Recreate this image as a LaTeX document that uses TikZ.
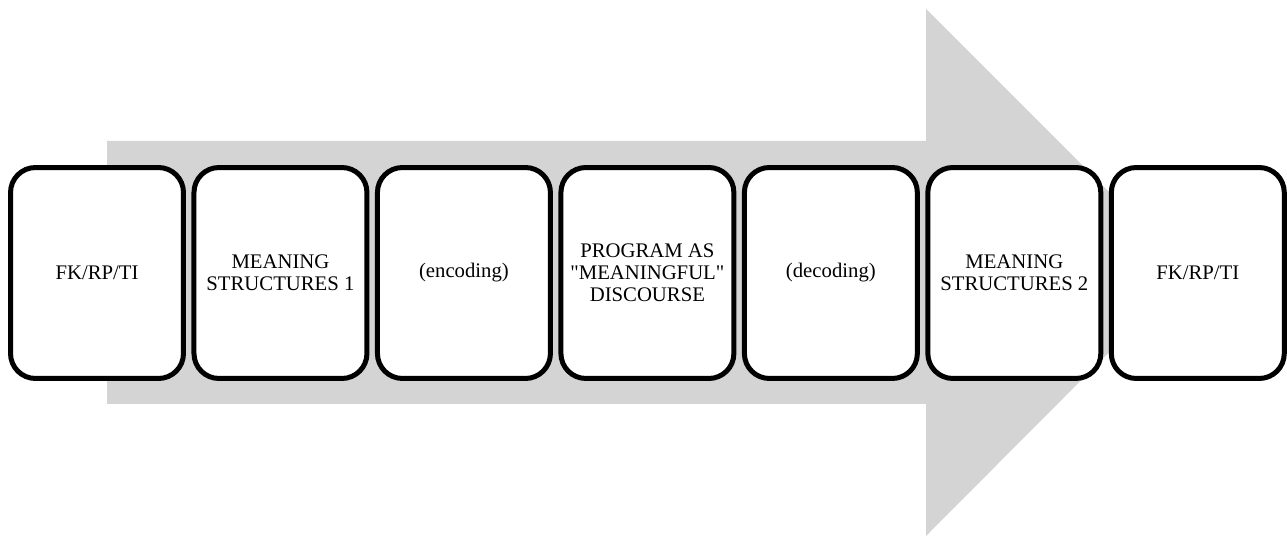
\documentclass[tikz,border=0pt]{standalone}
\usepackage{fontspec}
\setmainfont{Liberation Serif}
\usetikzlibrary{positioning}
\definecolor{arrowgray}{RGB}{212,212,212}
\begin{document}
\begin{tikzpicture}[x=0.02cm, y=-0.02cm,
    arrowstyle/.style={fill=arrowgray},
    boxstyle/.style={draw, line width=0.1cm, rounded corners=0.5cm, fill=white,
      minimum width=3.46cm, minimum height=4.22cm, align=center, outer sep=0pt,
      font=\fontsize{11.8}{12.6}\selectfont, inner sep=2pt}]
  \useasboundingbox (0,0) rectangle (1287,536);
  % big background arrow
  \fill[arrowstyle] (107,141) -- (926,141) -- (926,9) -- (1189,272)
    -- (926,536) -- (926,404) -- (107,404) -- cycle;
  % the seven stages
  \node[boxstyle] (fkA) at (97,273) {FK/RP/TI};
  \node[boxstyle, right=0.21cm of fkA] (msA) {MEANING\\STRUCTURES 1};
  \node[boxstyle, right=0.21cm of msA] (enc) {(encoding)};
  \node[boxstyle, right=0.21cm of enc] (prog) {PROGRAM AS\\\textquotedbl MEANINGFUL\textquotedbl\\DISCOURSE};
  \node[boxstyle, right=0.21cm of prog] (dec) {(decoding)};
  \node[boxstyle, right=0.21cm of dec] (msB) {MEANING\\STRUCTURES 2};
  \node[boxstyle, right=0.21cm of msB] (fkB) {FK/RP/TI};
\end{tikzpicture}
\end{document}
